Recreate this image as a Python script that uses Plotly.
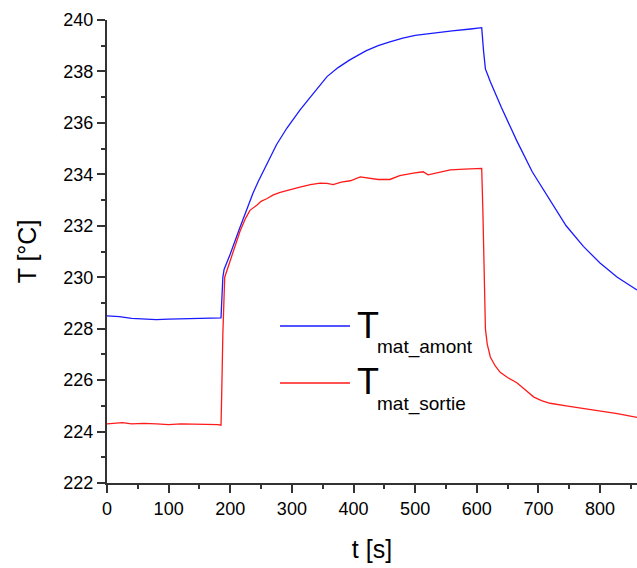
import plotly.graph_objects as go

# ---- data ----
t_amont = [0, 20, 40, 60, 80, 100, 120, 140, 160, 180, 185, 188, 190, 195, 200, 216, 230, 237,
           245, 259, 275, 292, 313, 330, 346, 357, 375, 394, 420, 440, 459, 480, 500, 530, 560,
           590, 605, 608, 611, 614, 618, 622, 640, 665, 690, 719, 745, 773, 800, 828, 845, 860]
T_amont = [228.5, 228.47, 228.4, 228.37, 228.35, 228.37, 228.38, 228.4, 228.4, 228.42, 228.42,
           230.0, 230.3, 230.6, 230.9, 231.95, 232.85, 233.27, 233.7, 234.4, 235.15, 235.8, 236.5,
           237.0, 237.47, 237.8, 238.15, 238.45, 238.8, 239.0, 239.15, 239.3, 239.4, 239.5,
           239.58, 239.65, 239.7, 239.7, 238.8, 238.1, 237.85, 237.6, 236.6, 235.3, 234.1, 233.0,
           232.0, 231.2, 230.55, 230.0, 229.75, 229.5]

t_sortie = [0, 10, 25, 40, 60, 80, 100, 120, 140, 160, 180, 185, 186, 188, 191, 196, 200, 208,
            216, 225, 232, 243, 250, 259, 270, 281, 295, 313, 330, 346, 357, 367, 380, 395, 411,
            425, 440, 459, 475, 497, 513, 521, 535, 557, 580, 600, 608, 610, 612, 614, 617, 622,
            630, 638, 650, 665, 680, 692, 705, 719, 745, 773, 800, 828, 845, 860]
T_sortie = [224.3, 224.33, 224.35, 224.3, 224.32, 224.3, 224.27, 224.3, 224.3, 224.28, 224.27,
            224.25, 225.3, 227.8, 230.0, 230.35, 230.6, 231.2, 231.8, 232.3, 232.6, 232.8, 232.95,
            233.05, 233.2, 233.3, 233.4, 233.5, 233.6, 233.66, 233.65, 233.6, 233.7, 233.75,
            233.9, 233.85, 233.8, 233.8, 233.95, 234.05, 234.1, 233.98, 234.05, 234.17, 234.2,
            234.22, 234.23, 232.5, 229.5, 228.0, 227.4, 226.9, 226.55, 226.3, 226.1, 225.9, 225.6,
            225.35, 225.2, 225.1, 225.0, 224.9, 224.82, 224.7, 224.62, 224.55]

series_names = ["mat_amont", "mat_sortie"]
series_colors = ["#1a1aff", "#ff1a1a"]

# ---- figure ----
W, H = 637, 568
ML, MR, MT, MB = 107, 0, 20, 85
PW, PH = W - ML - MR, H - MT - MB

def px(x):
    return (x - ML) / PW

def py(y):
    return (H - MB - y) / PH

FONT = "Liberation Sans, Arial"

fig = go.Figure()
for tx, ty, name, col in [(t_amont, T_amont, series_names[0], series_colors[0]),
                          (t_sortie, T_sortie, series_names[1], series_colors[1])]:
    fig.add_trace(go.Scatter(x=tx, y=ty, mode="lines", name="T " + name,
                             line=dict(color=col, width=1.3), showlegend=False))

# custom legend (line sample + big T + small subscript)
legend_y = [326, 383]
for name, col, ly in zip(series_names, series_colors, legend_y):
    fig.add_shape(type="line", xref="paper", yref="paper",
                  x0=px(280), x1=px(350), y0=py(ly), y1=py(ly),
                  line=dict(color=col, width=1.3))
    fig.add_annotation(xref="paper", yref="paper", x=px(355), y=py(ly - 1),
                       text="T", showarrow=False, xanchor="left", yanchor="middle",
                       font=dict(family=FONT, size=36, color="black"))
    fig.add_annotation(xref="paper", yref="paper", x=px(375), y=py(ly + 21),
                       text=name, showarrow=False, xanchor="left", yanchor="middle",
                       font=dict(family=FONT, size=19, color="black"))

axis_common = dict(
    showline=True, linecolor="#333333", linewidth=2,
    ticks="outside", ticklen=8, tickwidth=2, tickcolor="#333333",
    showgrid=False, zeroline=False, mirror=False,
    tickfont=dict(family=FONT, size=18, color="black"),
)

fig.update_layout(
    width=W, height=H,
    margin=dict(l=ML, r=MR, t=MT, b=MB),
    paper_bgcolor="white", plot_bgcolor="white",
    xaxis=dict(range=[0, 860], dtick=100, tick0=0,
               minor=dict(dtick=50, ticks="outside", ticklen=4, tickwidth=2, tickcolor="#333333"),
               title=dict(text="t [s]", standoff=23,
                          font=dict(family=FONT, size=25, color="black")),
               **axis_common),
    yaxis=dict(range=[222, 240], dtick=2, tick0=222,
               minor=dict(dtick=1, ticks="outside", ticklen=4, tickwidth=2, tickcolor="#333333"),
               title=dict(text="T [°C]", standoff=20,
                          font=dict(family=FONT, size=25, color="black")),
               **axis_common),
)

# remove the default page margin so the figure fills the window exactly
fig.write_html("out.html",
               config={"displayModeBar": False},
               post_script="document.body.style.margin='0';document.body.style.overflow='hidden';")
